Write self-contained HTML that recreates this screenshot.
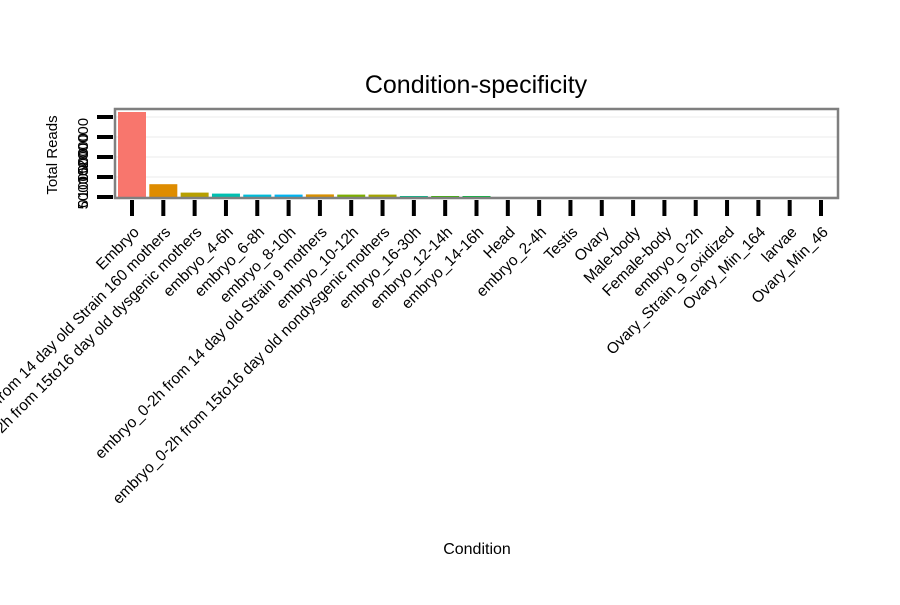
<!DOCTYPE html>
<html><head><meta charset="utf-8"><style>
body{margin:0;background:#fff}
svg text{font-family:"Liberation Sans",sans-serif;fill:#000}
</style></head><body>
<svg width="900" height="600" id="chart">
<rect width="900" height="600" fill="#fff"/>
<text x="476" y="93" font-size="25" text-anchor="middle">Condition-specificity</text>
<text x="477" y="554" font-size="16" text-anchor="middle">Condition</text>
<text transform="translate(57,155) rotate(-90)" font-size="15" text-anchor="middle">Total Reads</text>
<g id="grid"></g><g id="bars"></g><g id="axes"></g>
<rect x="115" y="109" width="723" height="89" fill="none" stroke="#7f7f7f" stroke-width="2.5"/>
</svg>
<script>
const categories=["Embryo","embryo_0-2h from 14 day old Strain 160 mothers","embryo_0-2h from 15to16 day old dysgenic mothers","embryo_4-6h","embryo_6-8h","embryo_8-10h","embryo_0-2h from 14 day old Strain 9 mothers","embryo_10-12h","embryo_0-2h from 15to16 day old nondysgenic mothers","embryo_16-30h","embryo_12-14h","embryo_14-16h","Head","embryo_2-4h","Testis","Ovary","Male-body","Female-body","embryo_0-2h","Ovary_Strain_9_oxidized","Ovary_Min_164","larvae","Ovary_Min_46"];
const values=[212500,32000,11000,8500,6000,6000,6500,6000,6000,2500,2500,2500,0,0,0,0,0,0,0,0,0,0,0];
const colors=["#F8766D","#DE8C00","#B79F00","#00BFB0","#00BCD8","#00B4F0","#D89000","#7CAE00","#A3A500","#00BA88","#39B600","#00BA38","#00C08B","#00A9FF","#619CFF","#9590FF","#C77CFF","#E76BF3","#FA62DB","#FF62BC","#FF6C91","#C49A00","#53B400"];
const yTicks=[0,50000,100000,150000,200000];
const yTickLabels=["0","50000","100000","150000","200000"];
const NS="http://www.w3.org/2000/svg";
const x0=132,step=(821-132)/22,bw=28;
function xs(i){return x0+i*step;}
function ys(v){return 197-v*20/50000;}
function mk(tag,attrs,parent){const e=document.createElementNS(NS,tag);for(const k in attrs)e.setAttribute(k,attrs[k]);document.getElementById(parent).appendChild(e);return e;}
yTicks.forEach((t,i)=>{
 const g=mk('line',{x1:116,x2:837,y1:ys(t),y2:ys(t),stroke:'#f5f5f5','stroke-width':2},'grid');
 
 
 const tk=mk('line',{x1:97,x2:113,y1:ys(t),y2:ys(t),stroke:'#000','stroke-width':4},'axes');
 
 
 const cy=ys(t)*0.76+54;
 const tl=mk('text',{transform:`translate(88,${cy}) rotate(-90)`,'font-size':15,'text-anchor':'middle'},'axes');
 tl.textContent=yTickLabels[i];
 
 
});
categories.forEach((c,i)=>{
 const x=xs(i);
 if(values[i]>0){
 const b=mk('rect',{x:x-bw/2,y:ys(values[i]),width:bw,height:197-ys(values[i]),fill:colors[i]},'bars');
 
 
 }
 const tk=mk('line',{x1:x,x2:x,y1:200,y2:216,stroke:'#000','stroke-width':4},'axes');
 
 
 const tl=mk('text',{transform:`translate(${x+8},${233}) rotate(-45)`,'font-size':15.5,'text-anchor':'end'},'axes');
 tl.textContent=c;
 
 
});
</script>
</body></html>
